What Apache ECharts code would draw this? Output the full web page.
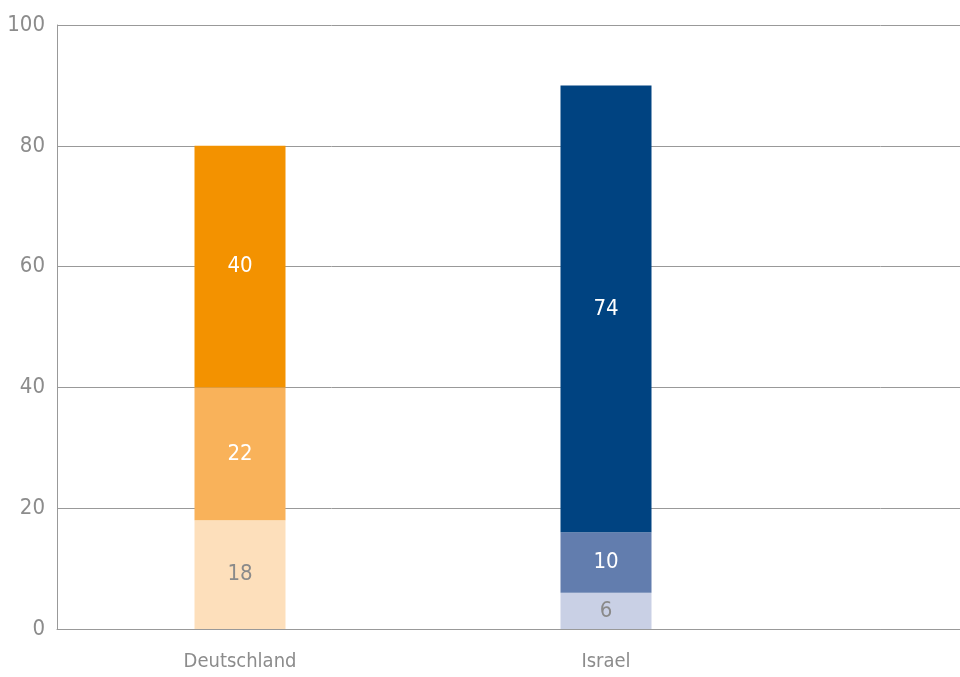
<!DOCTYPE html>
<html>
<head>
<meta charset="utf-8">
<script src="https://cdn.jsdelivr.net/npm/echarts@6/dist/echarts.min.js"></script>
<style>
  html, body { margin: 0; padding: 0; background: #fff; overflow: hidden; }
  #chart { width: 1170px; height: 677px; }
</style>
</head>
<body>
<div id="chart"></div>
<script>
// data
var categories = ['Deutschland', 'Israel', ''];
var bottomValues = [18, 6, null];
var middleValues = [22, 10, null];
var topValues = [40, 74, null];
var yTicks = [0, 20, 40, 60, 80, 100];

// colours per category: [bottom, middle, top]
var orange = ['#FDDFBB', '#F9B25A', '#F39200'];
var blue = ['#C9D0E5', '#627DAE', '#004381'];
var labelColors = ['#8a8a8a', '#ffffff', '#ffffff'];

var font = '"DejaVu Sans Condensed", "Liberation Sans Narrow", sans-serif';

function makeSeries(name, values, level) {
  return {
    name: name,
    type: 'bar',
    stack: 'total',
    barWidth: 91,
    data: values.map(function (v, i) {
      return {
        value: v,
        itemStyle: { color: i === 0 ? orange[level] : blue[level] }
      };
    }),
    label: {
      show: true,
      position: 'inside',
      color: labelColors[level],
      fontFamily: font,
      fontSize: 22
    }
  };
}

// the plot runs on past the right edge of the window, as in the cropped original
var chart = echarts.init(document.getElementById('chart'));
chart.setOption({
  animation: false,
  grid: { left: 57, width: 1098, top: 25, bottom: 48 },
  xAxis: {
    type: 'category',
    data: categories,
    axisLine: { show: true, lineStyle: { color: '#999', width: 1 } },
    axisTick: { show: false },
    axisLabel: { color: '#8c8c8c', fontFamily: font, fontSize: 20, margin: 23 }
  },
  yAxis: {
    type: 'value',
    min: yTicks[0],
    max: yTicks[yTicks.length - 1],
    interval: 20,
    axisLine: { show: true, lineStyle: { color: '#999', width: 1 } },
    axisTick: { show: false },
    axisLabel: { color: '#8c8c8c', fontFamily: font, fontSize: 22, margin: 12 },
    splitLine: { show: true, lineStyle: { color: '#999', width: 1 } }
  },
  series: [
    makeSeries('bottom', bottomValues, 0),
    makeSeries('middle', middleValues, 1),
    makeSeries('top', topValues, 2)
  ]
});
</script>
</body>
</html>
